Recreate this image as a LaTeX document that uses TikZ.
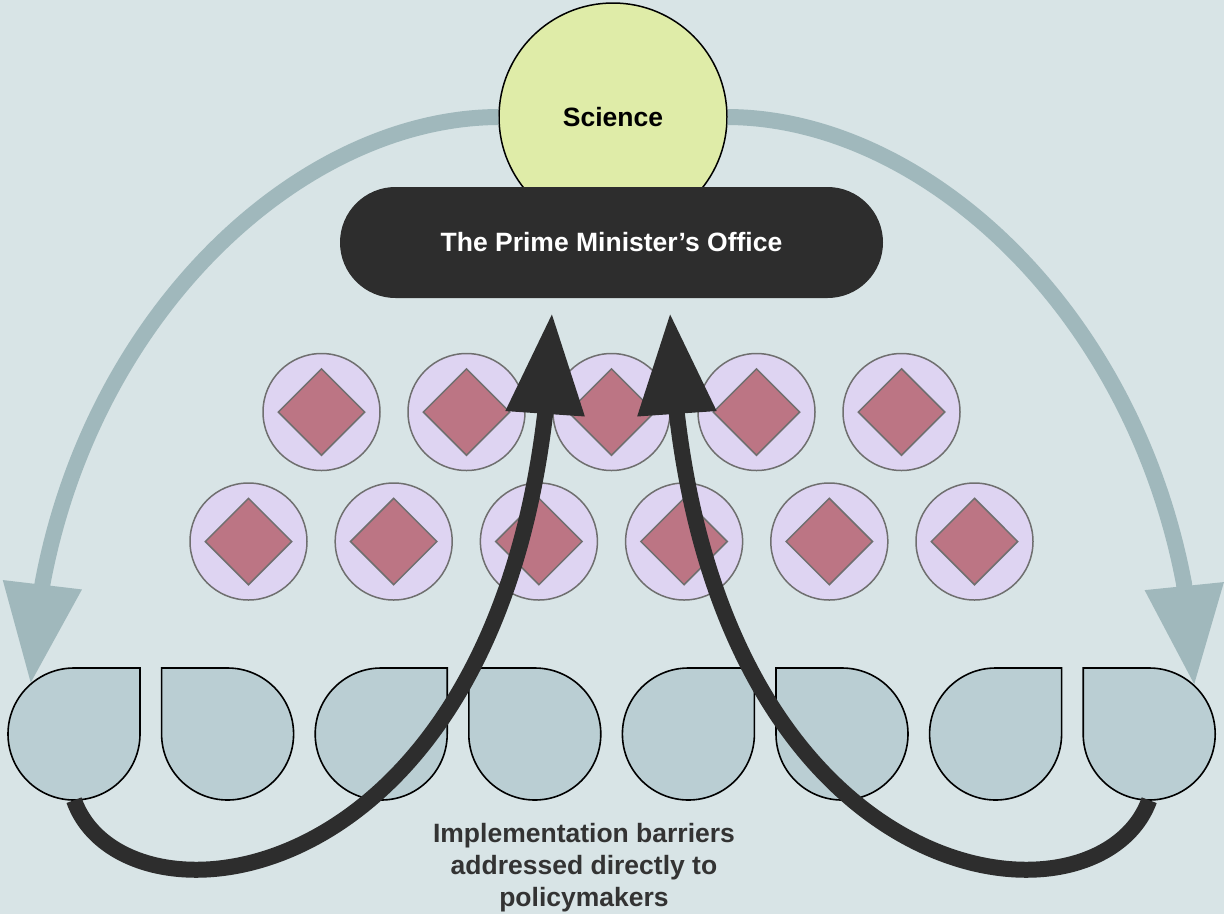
\documentclass[tikz,border=0pt]{standalone}
\usepackage{fontspec}
\setmainfont{Liberation Sans}
\usetikzlibrary{arrows.meta,shapes.geometric}
\definecolor{bgc}{HTML}{D8E4E6}
\definecolor{grayarr}{HTML}{A0B8BC}
\definecolor{dropfill}{HTML}{BACED3}
\definecolor{lav}{HTML}{DED4F2}
\definecolor{mauve}{HTML}{BC7584}
\definecolor{ring}{HTML}{6F6F6F}
\definecolor{scifill}{HTML}{DFECA8}
\definecolor{dark}{HTML}{2D2D2D}
\definecolor{txt}{HTML}{333333}
\begin{document}
\begin{tikzpicture}[x=1pt,y=-1pt,
  lbl/.style={font=\fontsize{26.5}{32}\selectfont\bfseries},
  unit/.style={circle, draw=ring, fill=lav, line width=1.5pt, minimum size=117pt, inner sep=0pt},
  gem/.style={diamond, draw=ring, fill=mauve, line width=1.5pt, minimum size=87pt, inner sep=0pt},
  dropanchor/.style={circle, minimum size=132pt, inner sep=0pt},
  drop/.style={draw=black, fill=dropfill, line width=1.6pt, line join=miter},
  feed/.style={draw=grayarr, line width=16pt, -{Triangle[length=100pt,width=75pt]}},
  push/.style={draw=dark, line width=16pt, -{Triangle[length=101pt,width=75pt]}},
]
\useasboundingbox (0,0) rectangle (1224,914);
\fill[bgc] (0,0) rectangle (1224,914);

% Science and the Prime Minister's Office
\node[circle, draw=black, fill=scifill, line width=1.5pt, minimum size=228pt, inner sep=0pt, lbl, text=black] (sci) at (613,117) {Science};
\node[rectangle, rounded corners=55.5pt, fill=dark, minimum width=543pt, minimum height=111pt, inner sep=0pt, text=white, lbl] (pm) at (611.5,242.5) {The Prime Minister’s Office};

% middle circles with diamonds
\foreach \i in {1,...,5} {
  \pgfmathsetmacro\cx{321.5+145*(\i-1)}
  \node[unit] (u\i) at (\cx,412) {};
  \node[gem] (g\i) at (\cx,412) {};
}
\foreach \i in {1,...,6} {
  \pgfmathsetmacro\cx{248.5+145.2*(\i-1)}
  \node[unit] (v\i) at (\cx,541.5) {};
  \node[gem] (h\i) at (\cx,541.5) {};
}

% bottom drop shapes
\foreach \i in {1,...,8} {
  \pgfmathsetmacro\cx{74+153.6*(\i-1)}
  \node[dropanchor] (d\i) at (\cx,734) {};
  \ifodd\i
    \filldraw[drop] (\cx,668) -- (\cx+66,668) -- (\cx+66,734) arc[start angle=0,end angle=270,radius=66] -- cycle;
  \else
    \filldraw[drop] (\cx,668) arc[start angle=-90,end angle=180,radius=66] -- (\cx-66,668) -- cycle;
  \fi
}

% grey feedback arcs
\coordinate (gb1) at (42.5,583.6);
\coordinate (gb2) at (1184,583.6);
\draw[feed] (sci.west) .. controls (303,118) and (94,308) .. (gb1) -- (d1.131);
\draw[feed] (sci.east) .. controls (923,118) and (1132,308) .. (gb2) -- (d8.47);

% black arrows
\coordinate (kb1) at (545,415);
\coordinate (t1) at (552,313);
\coordinate (kb2) at (677,415);
\coordinate (t2) at (670,313);
\draw[push] (d1.south) .. controls (122,936) and (487,905) .. (kb1) -- (t1);
\draw[push] (d8.south) .. controls (1100,936) and (735,905) .. (kb2) -- (t2);

% caption
\node[lbl, text=txt, align=center, inner sep=0pt] (note) at (584,868) {Implementation barriers\\addressed directly to\\policymakers};
\end{tikzpicture}
\end{document}
